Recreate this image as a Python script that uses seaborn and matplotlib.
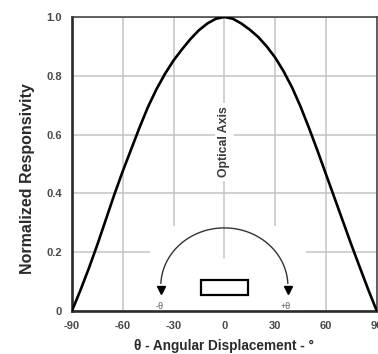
import numpy as np
import pandas as pd
import matplotlib
matplotlib.use("Agg")
import matplotlib.pyplot as plt
from matplotlib.patches import Rectangle
import seaborn as sns

# Relative responsivity versus angle of incidence
angle_deg = [-90, -85, -80, -75, -70, -65, -60, -55, -50, -45, -40, -35, -30,
             -25, -20, -15, -10, -5, 0, 5, 10, 15, 20, 25, 30, 35, 40, 45,
             50, 55, 60, 65, 70, 75, 80, 85, 90]
responsivity = [0.0, 0.07, 0.145, 0.225, 0.31, 0.395, 0.475, 0.55, 0.625,
                0.695, 0.755, 0.807, 0.852, 0.89, 0.925, 0.955, 0.978, 0.994,
                1.0, 0.994, 0.978, 0.957, 0.932, 0.90, 0.862, 0.815, 0.76,
                0.695, 0.622, 0.545, 0.465, 0.385, 0.305, 0.225, 0.148, 0.072,
                0.0]

x_ticks = [-90, -60, -30, 0, 30, 60, 90]
x_tick_labels = ["-90", "-60", "-30", "0", "30", "60", "90"]
y_ticks = [0, 0.2, 0.4, 0.6, 0.8, 1.0]
y_tick_labels = ["0", "0.2", "0.4", "0.6", "0.8", "1.0"]

df = pd.DataFrame({"angle": angle_deg, "resp": responsivity})

sns.set_theme(style="whitegrid")
plt.rcParams["font.family"] = ["Liberation Sans", "DejaVu Sans"]

fig = plt.figure(figsize=(3.78, 3.54), dpi=100)
ax = fig.add_axes([0.19, 0.121, 0.807, 0.831])

grid_col = "#c4c4c4"
ax.set_axisbelow(True)
ax.grid(True, color=grid_col, linewidth=1.1)

sns.lineplot(data=df, x="angle", y="resp", ax=ax, color="black",
             linewidth=1.9, zorder=5)
ax.lines[-1].set_solid_joinstyle("round")

ax.set_xlim(-90, 90)
ax.set_ylim(0, 1.0)
ax.set_xticks(x_ticks)
ax.set_xticklabels(x_tick_labels)
ax.set_yticks(y_ticks)
ax.set_yticklabels(y_tick_labels)
ax.tick_params(axis="both", length=0, labelsize=8, labelcolor="#4a4a4a")
ax.tick_params(axis="x", pad=7)
ax.tick_params(axis="y", pad=7)
for lab in ax.get_xticklabels() + ax.get_yticklabels():
    lab.set_fontweight("bold")

for side in ["left", "bottom"]:
    ax.spines[side].set_color("#2a2a2a")
    ax.spines[side].set_linewidth(1.9)
for side in ["top", "right"]:
    ax.spines[side].set_color("#3a3a3a")
    ax.spines[side].set_linewidth(1.1)

ax.set_xlabel("θ - Angular Displacement - °", fontsize=9.8, fontweight="bold",
              color="#2a2a2a", labelpad=6)
ax.set_ylabel("Normalized Responsivity", fontsize=11.5, fontweight="bold",
              color="#2a2a2a", labelpad=8)
ax.yaxis.set_label_coords(-0.122, 0.45)

# Inset sketch of the detector and the rotation direction
ax.add_patch(Rectangle((-44, 0), 92, 0.29, facecolor="white",
                       edgecolor="none", zorder=1))
ax.plot([0, 0], [0.18, 0.29], color=grid_col, linewidth=1.1, zorder=1.2)

t = np.linspace(np.pi * 0.985, np.pi * 0.015, 120)
ax.plot(37.5 * np.cos(t), 0.085 + 0.198 * np.sin(t), color="#333333",
        linewidth=1.0, zorder=3)
ax.plot([-37.5, 37.5], [0.072, 0.072], linestyle="none", marker="v",
        markersize=6, color="black", zorder=3)
ax.add_patch(Rectangle((-14, 0.056), 28, 0.05, facecolor="white",
                       edgecolor="black", linewidth=1.6, zorder=3))
ax.text(-38, 0.002, "-θ", fontsize=6.5, color="#555555", ha="center",
        va="bottom", zorder=3)
ax.text(36, 0.002, "+θ", fontsize=6.5, color="#555555", ha="center",
        va="bottom", zorder=3)

ax.text(0, 0.576, "Optical Axis", rotation=90, fontsize=8.8, fontweight="bold",
        color="#3a3a3a", ha="center", va="center", zorder=3,
        bbox=dict(boxstyle="square,pad=0.3", facecolor="white",
                  edgecolor="none"))

fig.savefig("out.png", dpi=100, facecolor="white")
